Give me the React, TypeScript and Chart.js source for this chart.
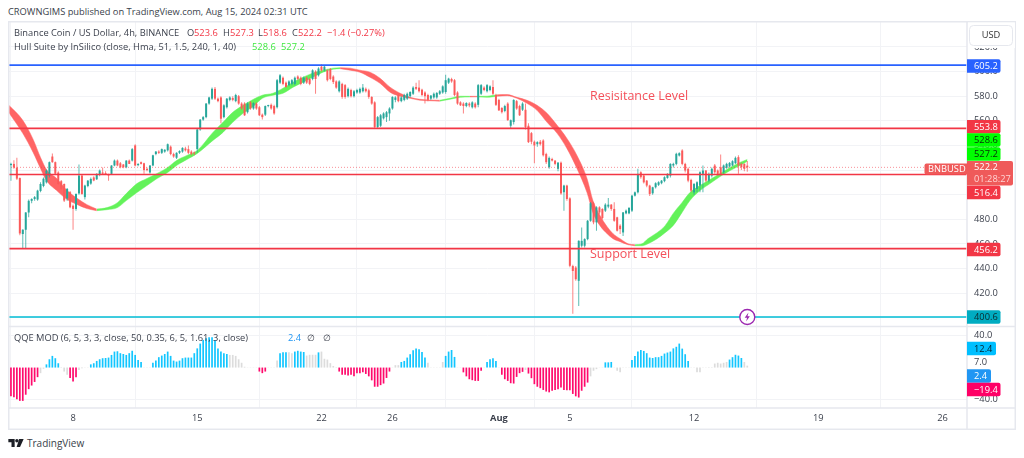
import React, { useEffect, useRef } from "react";
import { Chart, registerables } from "chart.js";

Chart.register(...registerables);

const opens = [
531.8,524,525,522,513.5,468,471.5,485.5,495,496.5,
496,503,507,510,515.5,531,526.4,518,511,508.7,
497,502,491,488.4,501,515.5,498,507,509,514,
512.5,516,518,517.5,516,516.9,523.7,527.7,525.5,524.5,
522.3,527.7,527.7,540,524,526.4,525.5,521,518,523.7,
533,535,534,535,536,539,533,530,534,535,
537.5,537,535,534,537,553,561,563,574,578,
586,578,579,563,571,577,578.5,576,580,574,
574,567,575,570,574,571,565,565,572,573,
572,571,591,595,591,589,590,590,596,595,
591,595,594,594,600,597,604,601,601,602,
596,592,584,590,589,580,585,580,583,583,
584,586,584.8,579.4,575,555,556,562,563,566,
570,577,581,576,577,578,580,582,587.5,587,
585.3,583,581,578,579,579,582,583,583.4,591,
594,593,583,575,574,572,574,571,574,573,
582,587,584,585,587.5,581,577,570.5,568,574,
556,559,576,572,569,569,556,550,543,541,
543,544,533,522.3,529,527.7,521,526,502,507.4,
497,442,440.8,430,458.5,458.5,463.9,478.8,493,477.5,
489.7,488.4,487,490.3,491.9,488.4,481.6,474.8,469.3,484.8,
484.8,487,499.2,501.9,518.2,515.5,511.4,507.4,501.1,506,
508,509.3,511,513.6,515.5,523.7,525,531.8,535.9,525,
521,512,501.9,504.7,507.4,516.9,519.6,511.4,515.5,523.7,
519.6,522.3,518.2,521.8,522.9,523.7,525.6,530.5,525,525,
523.6];
const highs = [
535,526,528,530,514,472,486,496,497,499,
504,510,514,520.5,527,533.5,527,519,512,509,
505.5,503,492,501,524.5,516,508,512,514,515,
517.5,520.5,522,519,517,524,528.5,528.5,526.5,525,
528,528.5,538,541,525.5,527,526,522,524,532.5,
535.5,536,537.5,537,541.5,540,534,534.5,536,538.5,
539,540,536,535,554,561.5,564,574.5,579.5,587,
587.5,579,580,573.5,578.5,580,580,582,581,575,
575,575,576,575,575,572,566,572.5,573,574,
573,594,598,596,592,593,594,596,597,596,
596,596,595,602,601,603.5,606,605,602,603,
597,593,593,591,590,587,586,585,586,587,
590,587,586,580,576,564,565.5,567,568,571,
580,580,582,580,582,583,584,588,591,593,
586,584,582,581,583,583.5,585,589,597.5,595,
595,594,584,576,575,575,575,576,575,590,
590,588,590,589,593,582,578,571,573,575,
561,577.5,577,573,575,574,558,551,544,543.5,
544.5,545,534,531,530,528,526.5,527,508,508,
498,443,442,463,473.4,464.5,479.5,494,494,490.5,
490.5,489,493,497.3,492.5,493.8,482,476,486,488,
490,500,502.5,521,519,516,512,508,506.5,510,
511,512,515,517.5,525.5,526,534,534.5,537,526,
522,513,509.5,511,519,523.7,520,518,522,525,
520.5,532.6,524.5,526,526.5,528,531,532,526,525.5,
527.3];
const lows = [
523,511.4,521,512,467,455.8,455.8,481.6,493,495,
495,502,506,509,514,526,516,508,504,494,
495,489,471.5,487,500,500,496,506,508,511,
512,515,516,516,511.4,516,523,523,521.5,521.5,
521.5,525,527,523,523,524.5,517,519,517,523,
532,533,533,534,535,532,530,529,533,534,
535,533,532,532,534,552,560,562,573,577,
577,575,558,562,570,576,576,575,573,569,
564,566,569,569,569,564,561,564,571,569,
565,570,590,589,587,588,589,589,593,589,
590,590,589,593,582,596,600,600,592,593,
590,586,583,578,578,579,579,579,582,582,
583,583,578,573,554,554,555,561,559,560,
569,575,575,575,576,577,579,581,585,583,
580,574,576,577,578,578,581,582,582,590,
591,580,573,572,566,571,571,570,570,571,
581,584,583,584,581,572,568,566,567,560,
553.5,557,569,564,568,553,542,541,525.6,539,
540,531,525,521,527,524,519,500,487,495,
441,403.3,430,409.6,457,457,463,478,476,470.7,
484,480,486,489,487,478,470,468,466.5,484,
484,486,498.5,501,513,509,506,499,500,505,
507,508.5,510,513,514,522,524,531,524,518,
510,502,500,502,502,501.9,510,510,514,517,
515.5,515.5,517,521,522,523,525,517,520,519,
518.6];
const closes = [
523.7,525,522,513,468.5,471.5,485.5,495,496.5,498,
503.3,508.7,513,519.6,526.4,526.4,517,508.7,504.7,495.2,
504.7,489.7,488.4,500.6,515.5,500.6,507.4,511.4,512.8,511.5,
516.9,519.6,517,516.5,515.5,523.7,527.7,523.7,522.3,522.3,
527.7,525,537,523.7,525,525,520,520,523.7,532,
535,534,537,536.5,541,533,531,534,535.5,538,
536,534,533,533.5,553,561,563,574,579,586,
578,576,561.7,572.6,578,579,577,581,574,570,
564.5,574,570,574.5,570,564.5,563,572,572.5,570,
566,593,597,590,587.5,592,593,595,594,590,
595,591,590,601,594,602.5,601,604,593,594,
591.5,587,592,579.4,579.4,586,580,584,585,586,
587,584,579.4,574,555,563,564.5,566,567,570,
579.4,579,576,579,581,582,583.4,587,586,584,
581,580,577,580.5,582,582.6,584,588,593,594.3,
592,581,574,572.6,572,574.5,572.5,575,571,589,
589,585,589,588,582,573,568.5,567,572,560.5,
560.5,577,570,564.5,574,555,542.7,543,540,542.7,
541,532,526.4,529.9,527.7,525,526,501,507.4,496.5,
442.2,438,431.3,462.5,462.5,463.9,478.8,493,477.5,489.7,
485.6,481,491.9,491.9,488.4,478.8,470.7,472,485.6,487,
489.2,499.2,501.9,516.9,514.2,510,507.4,500.6,506,509.3,
510.1,511.4,514.2,516.9,525,525,533.2,533.7,525,519.6,
511.4,503.3,508.7,510.1,518.2,519.6,511.4,516.9,521,518.2,
516.9,516.9,523.7,525,525.8,527.2,529.9,523.7,522.3,521,
522.2];

const hullIndex = [0,5,8.5,11,13,16.5,20,23.5,26.7,30,33.5,37,40,43.6,47,50.4,54,57,60.5,64,69.3,72.7,76,79.5,83,86,89.6,93,96.4,99.8,103,106.5,110,112.3,115.7,119,122.4,125.8,129.2,132.6,136,139.3,142.7,146,149.5,152.9,156.2,158.6,162,165.4,168.8,172.1,175.5,178.9,182.3,185.7,189,192.4,195.8,197.8,200.2,202.6,204.6,207,209.7,212,214.4,216.4,219.5,222.2,224.9,227.9,230.6,234,237.4,240.8,244.2,247.5,250];
const hullUpper = [573.4,560.4,544.9,530.2,520.4,513.1,503.3,496.8,491.9,488.3,489.5,493.5,500.9,509,513.1,517.2,522.1,527.8,531.9,535.9,550.6,558.8,566.9,572.6,577.5,580.8,582.4,586.5,591.4,595.4,598.7,601.1,602.8,603.2,602.8,601.1,599.5,594.6,587.3,582.4,579.1,577.5,576.9,576.7,578.3,580,579.9,579.9,580,581.2,581.3,579.1,576.7,572.6,566.1,556.3,545.7,531.9,513.1,495.2,483,474,468.3,464.2,460.1,459.3,460.1,464.2,469.1,474.8,484.6,493.5,501.7,507.4,512.3,517.2,522.1,526.2,528.6];
const hullLower = [567.7,549.8,534.3,521.3,511.5,503.3,496,491.9,488.7,487,487.8,489.5,495.2,501.7,507.4,513.1,518,523.7,528.6,533.5,544.1,550.6,558.8,566.1,571.8,578.3,580.8,582.4,587.3,591.4,595.4,599.5,602,602.4,601.1,599.5,595.4,590.5,583.2,580,578.3,576.7,576.3,576,577.5,579.1,579.4,579.5,579.1,580,580.4,578.3,574.2,568.5,558.8,549.8,537.6,521.3,501.7,485.4,474.8,468.3,464.2,461.8,459.3,458.5,458.5,460.1,464.2,469.1,474.8,485.4,495.2,503.3,509,514.7,519.6,523.7,527.2];
// hull direction runs: [first hull point, last hull point, rising?]
const hullRuns: [number, number, boolean][] = [[0,9,false],[9,33,true],[33,43,false],[43,46,true],[46,47,false],[47,49,true],[49,65,false],[65,78,true]];

const qqeValues = [
-33,-36,-37,-39.6,-41.7,-41.7,-34,-27,-22.5,-18,
-12,-7,-1.5,4,10.4,14.6,11.7,5.4,0.5,-5,
-9,-13,-17.5,-12,-3,-1,0.3,0.3,4,5.4,
8.3,10.4,11.7,12,12.5,15.8,20,20.4,18,17,
15.8,18,21,15.8,9.6,7,0.5,0.5,0.5,6,
8.7,13,15,17,20,14.6,8.7,7.5,8.7,11.7,
12.5,12.5,12.5,18,24,30,34.6,36.7,38,38,
34.6,24,20,18,17,15.8,15.8,14.6,10.4,6,
1,0.3,0.3,0.3,0.3,-5,-7,-5,0.3,0.3,
0.3,8.7,18,19,19,19,18,20,21,20,
19.5,15,16,16,16,19,20,11,10,5.5,
2,0.5,-5,-9,-9,-10,-9,-11,-7,-7,
-6,-8,-11,-16,-24,-24,-22,-20,-13,-5,
0.3,3,3,7,8.3,12.5,16.7,21.7,23.7,23,
19.6,12.5,6,0.3,0.3,0.3,0.3,7,14.6,20,
22,13.3,0.3,0.3,-6,-11,-14.6,-15.8,-16.7,-16.7,
-4,0.3,7,10.4,11.7,8.3,0.3,-9,-14.6,-16.7,
-19.6,-20,-11.7,-7,-5.4,-3,-7.5,-13.3,-20.8,-24,
-25.8,-28,-30,-31,-29,-28,-27,-25,-28,-28.3,
-28.3,-33,-36,-37.5,-29,-24,-18.8,-11,-4,-2,
0.3,0.3,6.5,6.5,7,0.3,-4,-6,0.3,0.3,
0.3,9.6,14.6,20,22,20.8,18,12.5,12,13,
13,14.6,17.5,18.8,20,24,26,30,23.7,16.7,
8.3,0.3,0.3,-6,-6,0.5,0.5,0.5,0.5,5,
6,5,6,7,10,13,16,15,12,7,
2.4];
// QQE state runs: d = below, u = above, n = neutral, with their lengths
const qqeRuns: [string, number][] = [["d",11],["n",2],["u",5],["n",3],["d",3],["n",4],["u",18],["n",3],["u",26],["n",10],["d",3],["n",4],["u",3],["n",2],["u",4],["n",4],["u",1],["n",6],["d",18],["n",3],["u",9],["n",6],["u",4],["n",2],["d",7],["n",1],["u",4],["n",1],["d",8],["n",1],["d",21],["n",5],["u",3],["n",6],["u",20],["n",13],["u",5],["n",2]];

const levelResistanceTop = 605.2;
const levelResistance = 553.8;
const levelMiddle = 516.4;
const levelSupport = 456.2;
const levelFloor = 400.6;
const lastPrice = 522.2;
const priceTicks = [400,420,440,460,480,500,520,540,560,580,600,620];
const qqeTicks = [40,7,-40];
const timeTicks = [22,64,106,130,166,190,232,274,316];
const timeLabels = ["8","15","22","26","Aug","5","12","19","26"];

const FONT = '"Open Sans", "Noto Sans", sans-serif';
const RED = "#f23645";
const UP = "#26a69a";
const DOWN = "#fb5a5a";
const GRID = "#f2f3f6";
const FRAME = "#e6e8ee";
const X_MIN = 0;
const X_MAX = 324.3;
const TICK_SIZE = 9.3;

const tones: Record<string, string> = { d: "#ff0a6c", u: "#12c6ff", n: "#dcdcdc" };

function hullDatasets() {
  const out: any[] = [];
  hullRuns.forEach(([a, b, up]) => {
    const col = up ? "#63f25a" : "#ff6464";
    const pts = (src: number[]) => hullIndex.slice(a, b + 1).map((x, i) => ({ x, y: src[a + i] }));
    const common = { type: "line", yAxisID: "y", pointRadius: 0, borderWidth: 0.5, borderColor: col, cubicInterpolationMode: "monotone", order: 3 };
    out.push({ ...common, data: pts(hullUpper), fill: "+1", backgroundColor: col });
    out.push({ ...common, data: pts(hullLower), fill: false });
  });
  return out;
}

function levelDataset(v: number, color: string, width: number, dash: number[] = []) {
  return { type: "line", yAxisID: "y", data: [{ x: X_MIN, y: v }, { x: X_MAX, y: v }], borderColor: color, borderWidth: width, borderDash: dash, pointRadius: 0, order: -1, fill: false };
}

const noPad = (s: any) => { s.paddingTop = 0; s.paddingBottom = 0; s.paddingLeft = 0; s.paddingRight = 0; };

const tagsPlugin = {
  id: "tags",
  afterDraw(chart: any) {
    const c: CanvasRenderingContext2D = chart.ctx;
    const a = chart.chartArea;
    const right = a.right; // pane edge
    const y = chart.scales.y;
    // frame
    c.save();
    c.strokeStyle = FRAME;
    c.lineWidth = 1.5;
    c.strokeRect(0.75, 0.75, chart.width - 1.5, chart.height - 1.5);
    const sepY = y.bottom + 0.5;
    c.beginPath();
    c.moveTo(0, sepY); c.lineTo(chart.width, sepY);
    c.moveTo(0, a.bottom); c.lineTo(chart.width, a.bottom);
    c.moveTo(right, 0); c.lineTo(right, chart.height);
    c.stroke();

    const tag = (cy: number, h: number, w: number, bg: string, fg: string, text: string) => {
      c.fillStyle = bg;
      c.beginPath();
      c.roundRect(right, cy - h / 2, w, h, [0, 2, 2, 0]);
      c.fill();
      c.fillStyle = fg;
      c.font = `${TICK_SIZE}px ${FONT}`;
      c.textAlign = "left";
      c.textBaseline = "middle";
      c.fillText(text, right + 7, cy + 0.5);
    };
    // USD button with the white area that masks the labels beneath it
    c.fillStyle = "#fff";
    c.fillRect(right + 1, 1.5, 47, 25.5);
    c.strokeStyle = FRAME;
    c.lineWidth = 1;
    c.beginPath();
    c.roundRect(right + 2.5, 4.5, 43, 20, 4);
    c.fill(); c.stroke();
    c.fillStyle = "#333";
    c.font = `${TICK_SIZE}px ${FONT}`;
    c.textAlign = "center";
    c.textBaseline = "middle";
    c.fillText("USD", right + 24, 14.5);

    const base = 21; // canvas top offset in page pixels
    tag(66 - base, 13.4, 33.5, "#2962ff", "#fff", levelResistanceTop.toFixed(1));
    tag(126.8 - base, 13.4, 33.5, RED, "#fff", levelResistance.toFixed(1));
    tag(140 - base, 13.5, 33.5, "#00ff00", "#0a2a0a", "528.6");
    tag(154 - base, 13.5, 33.5, "#00ff00", "#0a2a0a", "527.2");
    // last price block
    c.fillStyle = "#ef5a5a";
    c.beginPath();
    c.roundRect(right, 161 - base, 46, 24.5, [0, 2, 2, 0]);
    c.fill();
    c.fillStyle = "#fff";
    c.textAlign = "left";
    c.fillText(lastPrice.toFixed(1), right + 7, 167.5 - base);
    c.fillStyle = "#ffd3d3";
    c.fillText("01:28:27", right + 7, 179 - base);
    // symbol badge
    c.fillStyle = "#ef5a5a";
    c.beginPath();
    c.roundRect(right - 42.5, 163.5 - base, 42.5, 11, [2, 0, 0, 2]);
    c.fill();
    c.fillStyle = "#fff";
    c.font = `${TICK_SIZE}px ${FONT}`;
    c.fillText("BNBUSD", right - 39, 169.5 - base);
    tag(192.5 - base, 13.5, 33.5, RED, "#fff", levelMiddle.toFixed(1));
    tag(y.getPixelForValue(levelSupport) + 1, 13.5, 33.5, RED, "#fff", levelSupport.toFixed(1));
    tag(y.getPixelForValue(levelFloor), 13.5, 33.5, "#00acc1", "#0a2a2e", levelFloor.toFixed(1));
    tag(348.5 - base, 13.5, 29, "#00bfff", "#06222e", "12.4");
    tag(376 - base, 13.5, 24, "#2196f3", "#fff", "2.4");
    tag(389.5 - base, 13.5, 33.5, "#ff0066", "#fff", "\u221219.4");

    // lightning marker on the floor line
    const mx = chart.scales.x.getPixelForValue(250);
    const my = y.getPixelForValue(levelFloor);
    c.fillStyle = "#fff";
    c.strokeStyle = "#9c27b0";
    c.lineWidth = 1.4;
    c.beginPath();
    c.arc(mx, my, 7.5, 0, Math.PI * 2);
    c.fill(); c.stroke();
    c.fillStyle = "#9c27b0";
    c.beginPath();
    c.moveTo(mx + 1.2, my - 4.5); c.lineTo(mx - 2.6, my + 0.8); c.lineTo(mx - 0.2, my + 0.8);
    c.lineTo(mx - 1.2, my + 4.5); c.lineTo(mx + 2.6, my - 0.8); c.lineTo(mx + 0.2, my - 0.8);
    c.closePath();
    c.fill();
    c.restore();
  },
};

const textStyle: React.CSSProperties = { position: "absolute", fontFamily: FONT, fontSize: 9.3, lineHeight: "14px", whiteSpace: "pre", color: "#3a3f4b" };

export default function App() {
  const ref = useRef<HTMLCanvasElement>(null);
  useEffect(() => {
    const idx = opens.map((_, i) => i);
    const qqeTones: string[] = [];
    qqeRuns.forEach(([k, n]) => { for (let i = 0; i < n; i++) qqeTones.push(k); });
    const isUp = (i: number) => closes[i] >= opens[i];
    const chart = new Chart(ref.current as HTMLCanvasElement, {
      type: "bar",
      data: {
        datasets: [
          levelDataset(levelResistanceTop, "#2962ff", 1.7),
          levelDataset(levelResistance, RED, 1.7),
          levelDataset(levelMiddle, RED, 1.7),
          levelDataset(levelSupport, RED, 1.7),
          levelDataset(levelFloor, "#00bcd4", 1.7),
          levelDataset(lastPrice, "rgba(242,54,69,0.55)", 1, [1, 2]),
          {
            yAxisID: "y", order: 0, grouped: false, barThickness: 2, minBarLength: 1, inflateAmount: 0,
            data: idx.map((i) => ({ x: i, y: [opens[i], closes[i]] })),
            backgroundColor: idx.map((i) => (isUp(i) ? UP : DOWN)),
          },
          {
            yAxisID: "y", order: 1, grouped: false, barThickness: 1, inflateAmount: 0,
            data: idx.map((i) => ({ x: i, y: [lows[i], highs[i]] })),
            backgroundColor: idx.map((i) => (isUp(i) ? "rgba(38,166,154,0.75)" : "rgba(251,90,90,0.75)")),
          },
          ...hullDatasets(),
          {
            yAxisID: "q", order: 2, grouped: false, barThickness: 1.7, inflateAmount: 0,
            data: idx.map((i) => ({ x: i, y: qqeValues[i] })),
            backgroundColor: idx.map((i) => tones[qqeTones[i]]),
          },
        ] as any,
      },
      options: {
        responsive: false,
        animation: false,
        layout: { padding: 0 },
        plugins: { legend: { display: false }, tooltip: { enabled: false } },
        events: [],
        scales: {
          x: {
            type: "linear", min: X_MIN, max: X_MAX, offset: false,
            grid: { color: GRID, lineWidth: 1, tickLength: 0, drawTicks: false },
            border: { display: false },
            afterBuildTicks: (s: any) => { s.ticks = timeTicks.map((value) => ({ value })); },
            afterFit: (s: any) => { s.height = 22; noPad(s); },
            ticks: {
              autoSkip: false, maxRotation: 0, padding: 5, color: "#3a3f4b",
              font: (ctx: any) => ({ family: FONT, size: TICK_SIZE, weight: timeLabels[ctx.index] === "Aug" ? "bold" : "normal" }),
              callback: (_v: any, i: number) => timeLabels[i],
            },
          },
          y: {
            type: "linear", position: "right", stack: "panes", stackWeight: 305, min: 393.3, max: 641.1,
            grid: { color: GRID, drawTicks: false },
            border: { display: false },
            afterBuildTicks: (s: any) => { s.ticks = priceTicks.map((value) => ({ value })); },
            afterFit: (s: any) => { s.width = 49; noPad(s); },
            ticks: { padding: 7, color: "#3a3f4b", font: { family: FONT, size: TICK_SIZE }, callback: (v: any) => Number(v).toFixed(1) },
          },
          q: {
            type: "linear", position: "right", stack: "panes", stackWeight: 82, min: -50.6, max: 52,
            grid: { color: (ctx: any) => (ctx.tick && ctx.tick.value === 7 ? "transparent" : GRID), drawTicks: false },
            border: { display: false },
            afterBuildTicks: (s: any) => { s.ticks = qqeTicks.map((value) => ({ value })); },
            afterFit: (s: any) => { s.width = 49; noPad(s); },
            ticks: { padding: 7, color: "#3a3f4b", font: { family: FONT, size: TICK_SIZE }, callback: (v: any) => (v < 0 ? "\u2212" : "") + Math.abs(Number(v)).toFixed(1) },
          },
        },
      } as any,
      plugins: [tagsPlugin],
    });
    return () => chart.destroy();
  }, []);

  const at = (left: number, top: number, color: string, text: string) => (
    <div style={{ ...textStyle, left, top, color }}>{text}</div>
  );
  const dark = "#3a3f4b";
  const green = "#3ee83e";
  return (
    <div style={{ position: "fixed", left: 0, top: 0, width: 1024, height: 458, background: "#fff", overflow: "hidden" }}>
      <canvas ref={ref} width={1008} height={409} style={{ position: "absolute", left: 8, top: 21, width: 1008, height: 409 }} />
      {at(8, 5, dark, "CROWNGIMS published on TradingView.com, Aug 15, 2024 02:31 UTC")}
      {at(14, 26, dark, "Binance Coin / US Dollar, 4h, BINANCE")}
      {at(187, 26, dark, "O")}{at(194, 26, RED, "523.6")}
      {at(223, 26, dark, "H")}{at(230, 26, RED, "527.3")}
      {at(258, 26, dark, "L")}{at(263, 26, RED, "518.6")}
      {at(292, 26, dark, "C")}{at(298, 26, RED, "522.2")}
      {at(327, 26, RED, "\u22121.4 (\u22120.27%)")}
      {at(14, 40, dark, "Hull Suite by InSilico (close, Hma, 51, 1.5, 240, 1, 40)")}
      {at(252, 40, green, "528.6")}{at(281, 40, green, "527.2")}
      {at(14, 331, dark, "QQE MOD (6, 5, 3, 3, close, 50, 0.35, 6, 5, 1.61, 3, close)")}
      {at(288, 331, "#2196f3", "2.4")}{at(307, 331, dark, "\u2205")}{at(323, 331, dark, "\u2205")}
      <div style={{ ...textStyle, left: 590, top: 87, fontSize: 12.5, lineHeight: "18px", color: "#f4505a" }}>Resisitance Level</div>
      <div style={{ ...textStyle, left: 590, top: 245, fontSize: 12.5, lineHeight: "18px", color: "#f4505a" }}>Support Level</div>
      <svg style={{ position: "absolute", left: 8, top: 439 }} width={16} height={9} viewBox="0 0 17 10">
        <path d="M0 0H7V9H3.5V3.5H0Z M12 0H17L13 9H9.2Z" fill="#1c1f26" />
        <circle cx="9.5" cy="1.9" r="1.9" fill="#1c1f26" />
      </svg>
      <div style={{ ...textStyle, left: 27, top: 436, fontSize: 10, color: dark }}>TradingView</div>
    </div>
  );
}
